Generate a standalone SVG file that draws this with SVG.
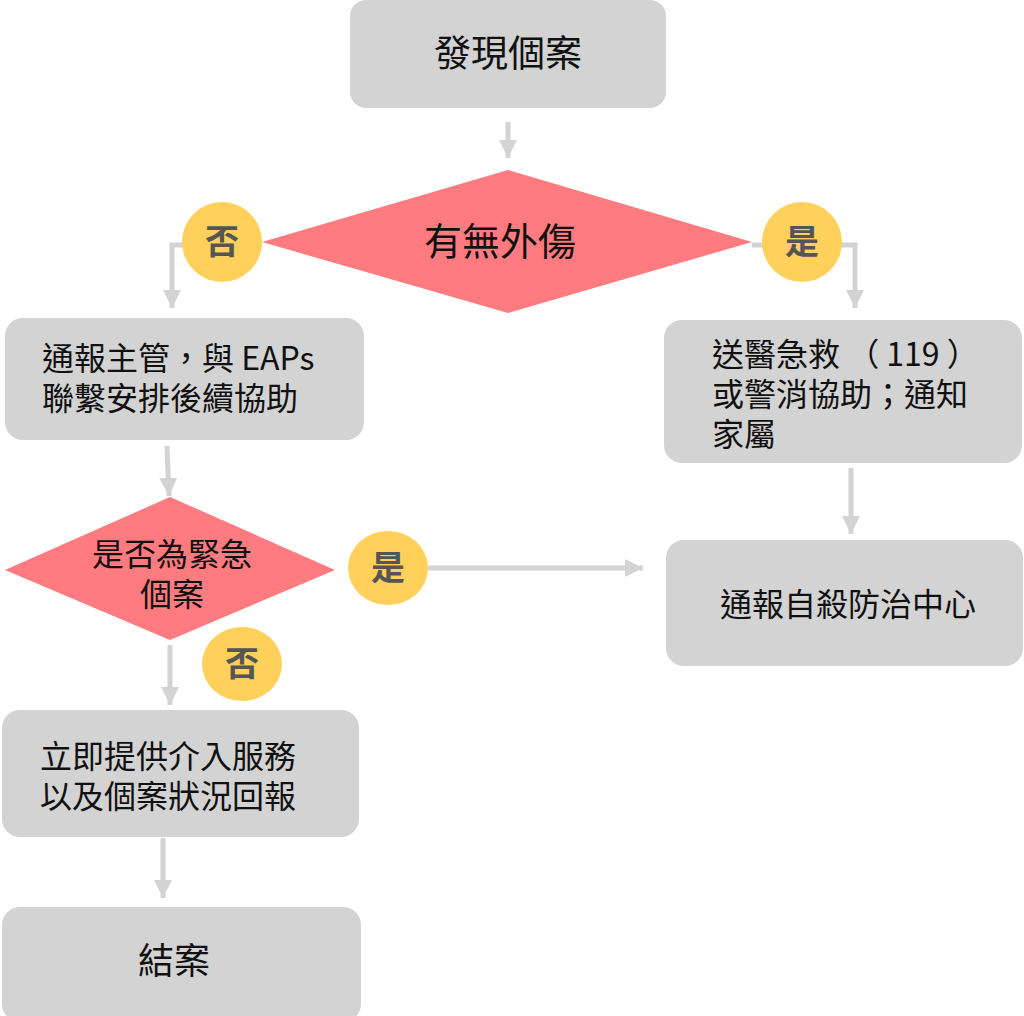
<svg xmlns="http://www.w3.org/2000/svg" width="1024" height="1016" viewBox="0 0 1024 1016">
<style>
.box{fill:#d3d3d3}
.dia{fill:#ff7b7f}
.lab{fill:#ffd05a}
.t{font-family:"Noto Sans CJK TC","Noto Sans",sans-serif;font-size:32px;fill:#111}
.c{text-anchor:middle}
.lt{font-family:"Noto Sans CJK TC","Noto Sans",sans-serif;font-size:34px;fill:#555;text-anchor:middle;font-weight:bold}
.ln{fill:none;stroke:#d3d3d3;stroke-width:5}
</style>
<defs>
<marker id="ah" viewBox="0 0 10 10" refX="10" refY="5" markerWidth="3.6" markerHeight="3.6" orient="auto" markerUnits="strokeWidth">
<path d="M0,0 L10,5 L0,10 z" fill="#d3d3d3"/>
</marker>
</defs>
<rect width="1024" height="1016" fill="#fff"/>
<g id="connectors">
<line class="ln" x1="508" y1="122" x2="508" y2="158" marker-end="url(#ah)"/>
<polyline class="ln" points="262,245 172,245 172,308" marker-end="url(#ah)"/>
<polyline class="ln" points="752,245 855,245 855,308" marker-end="url(#ah)"/>
<line class="ln" x1="167" y1="446" x2="169" y2="496" marker-end="url(#ah)"/>
<line class="ln" x1="428" y1="568" x2="643" y2="568" marker-end="url(#ah)"/>
<line class="ln" x1="170" y1="645" x2="170" y2="705" marker-end="url(#ah)"/>
<line class="ln" x1="163" y1="838" x2="163" y2="898" marker-end="url(#ah)"/>
<line class="ln" x1="851" y1="468" x2="851" y2="534" marker-end="url(#ah)"/>
</g>
<g id="n1"><rect class="box" x="350" y="0" width="316" height="108" rx="16"/><text class="t c" x="508" y="67" style="font-size:37px">發現個案</text></g>
<g id="n2"><polygon class="dia" points="262,242 508,170 752,242 508,313"/><text class="t c" x="500" y="255" style="font-size:38px">有無外傷</text></g>
<g id="l1"><circle class="lab" cx="222" cy="242" r="40"/><text class="lt" x="222" y="254">否</text></g>
<g id="l2"><circle class="lab" cx="802" cy="242" r="40"/><text class="lt" x="802" y="254">是</text></g>
<g id="n3"><rect class="box" x="5" y="318" width="359" height="122" rx="18"/><text class="t" x="42" y="370">通報主管，與 EAPs</text><text class="t" x="42" y="410">聯繫安排後續協助</text></g>
<g id="n4"><rect class="box" x="664" y="320" width="358" height="143" rx="18"/><text class="t" x="712" y="366">送醫急救 （ 119 ）</text><text class="t" x="712" y="406">或警消協助；通知</text><text class="t" x="712" y="446">家屬</text></g>
<g id="n5"><polygon class="dia" points="5,570 170,497 335,570 170,640"/><text class="t c" x="172" y="566">是否為緊急</text><text class="t c" x="172" y="606">個案</text></g>
<g id="l3"><ellipse class="lab" cx="388" cy="568" rx="40" ry="37"/><text class="lt" x="388" y="580">是</text></g>
<g id="l4"><ellipse class="lab" cx="242" cy="664" rx="40" ry="37"/><text class="lt" x="242" y="676">否</text></g>
<g id="n6"><rect class="box" x="666" y="540" width="357" height="126" rx="18"/><text class="t" x="720" y="616">通報自殺防治中心</text></g>
<g id="n7"><rect class="box" x="2" y="710" width="357" height="127" rx="18"/><text class="t" x="40" y="768">立即提供介入服務</text><text class="t" x="40" y="808">以及個案狀況回報</text></g>
<g id="n8"><rect class="box" x="2" y="907" width="359" height="115" rx="18"/><text class="t c" x="174" y="974" style="font-size:36px">結案</text></g>
</svg>
